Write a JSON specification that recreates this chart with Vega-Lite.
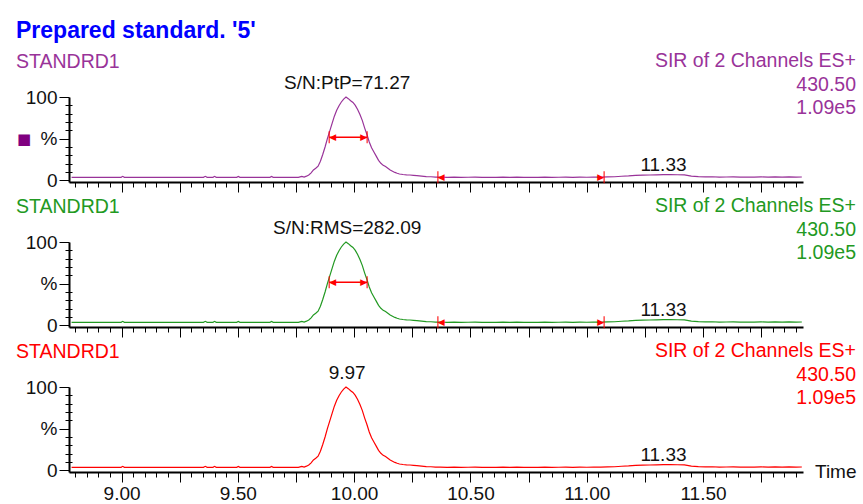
{
  "$schema": "https://vega.github.io/schema/vega-lite/v6.json",
  "background": "white",
  "padding": {"left": 16, "top": 19, "right": 2, "bottom": 0},
  "title": {"text": "Prepared standard. '5'", "anchor": "start", "frame": "bounds", "color": "#0000ff", "font": "Liberation Sans", "fontSize": 23, "fontWeight": "bold", "offset": 8.5},
  "spacing": 60,
  "bounds": "flush",
  "datasets": {
    "trace": [
      {"t": 8.785, "v": 3.6}, {"t": 8.83, "v": 3.6}, {"t": 8.88, "v": 3.6}, {"t": 8.93, "v": 3.6}, {"t": 8.98, "v": 3.6},
      {"t": 8.998, "v": 3.6}, {"t": 9.005, "v": 4.8}, {"t": 9.012, "v": 3.6}, {"t": 9.06, "v": 3.6}, {"t": 9.11, "v": 3.6},
      {"t": 9.16, "v": 3.6}, {"t": 9.21, "v": 3.6}, {"t": 9.26, "v": 3.6}, {"t": 9.31, "v": 3.6}, {"t": 9.352, "v": 3.6},
      {"t": 9.36, "v": 4.8}, {"t": 9.368, "v": 3.6}, {"t": 9.393, "v": 3.6}, {"t": 9.4, "v": 4.8}, {"t": 9.407, "v": 3.6},
      {"t": 9.45, "v": 3.6}, {"t": 9.495, "v": 3.6}, {"t": 9.502, "v": 4.6}, {"t": 9.509, "v": 3.6}, {"t": 9.56, "v": 3.6},
      {"t": 9.6, "v": 3.6}, {"t": 9.638, "v": 3.6}, {"t": 9.645, "v": 4.6}, {"t": 9.652, "v": 3.6}, {"t": 9.7, "v": 3.6},
      {"t": 9.74, "v": 3.6}, {"t": 9.76, "v": 3.6}, {"t": 9.775, "v": 4.8}, {"t": 9.785, "v": 3.9}, {"t": 9.795, "v": 5},
      {"t": 9.805, "v": 6.5}, {"t": 9.815, "v": 9}, {"t": 9.825, "v": 12.5}, {"t": 9.835, "v": 14.5}, {"t": 9.845, "v": 17},
      {"t": 9.855, "v": 23}, {"t": 9.865, "v": 31}, {"t": 9.875, "v": 40}, {"t": 9.885, "v": 50}, {"t": 9.895, "v": 59},
      {"t": 9.905, "v": 68}, {"t": 9.915, "v": 77}, {"t": 9.925, "v": 84}, {"t": 9.935, "v": 89.5}, {"t": 9.945, "v": 94},
      {"t": 9.955, "v": 97.5}, {"t": 9.965, "v": 100}, {"t": 9.975, "v": 98}, {"t": 9.985, "v": 95.5}, {"t": 9.995, "v": 93.5},
      {"t": 10.005, "v": 90}, {"t": 10.015, "v": 85}, {"t": 10.025, "v": 79}, {"t": 10.035, "v": 72}, {"t": 10.045, "v": 63},
      {"t": 10.055, "v": 55}, {"t": 10.065, "v": 46}, {"t": 10.075, "v": 39}, {"t": 10.085, "v": 34}, {"t": 10.095, "v": 29},
      {"t": 10.105, "v": 24}, {"t": 10.115, "v": 20.5}, {"t": 10.125, "v": 18}, {"t": 10.135, "v": 16.5}, {"t": 10.145, "v": 14.5},
      {"t": 10.155, "v": 12.5}, {"t": 10.165, "v": 11}, {"t": 10.175, "v": 9.5}, {"t": 10.185, "v": 8.5}, {"t": 10.195, "v": 7.6},
      {"t": 10.21, "v": 7}, {"t": 10.225, "v": 6.6}, {"t": 10.24, "v": 6.4}, {"t": 10.255, "v": 6.0}, {"t": 10.27, "v": 5.6},
      {"t": 10.29, "v": 5.0}, {"t": 10.31, "v": 4.4}, {"t": 10.33, "v": 4.3}, {"t": 10.35, "v": 3.9}, {"t": 10.37, "v": 3.8},
      {"t": 10.4, "v": 3.6}, {"t": 10.43, "v": 3.9}, {"t": 10.46, "v": 3.6}, {"t": 10.49, "v": 3.7}, {"t": 10.52, "v": 3.9},
      {"t": 10.55, "v": 3.6}, {"t": 10.58, "v": 3.7}, {"t": 10.61, "v": 3.6}, {"t": 10.64, "v": 3.8}, {"t": 10.67, "v": 3.6},
      {"t": 10.7, "v": 3.9}, {"t": 10.73, "v": 3.6}, {"t": 10.76, "v": 3.7}, {"t": 10.79, "v": 3.6}, {"t": 10.82, "v": 3.8},
      {"t": 10.85, "v": 3.6}, {"t": 10.88, "v": 3.7}, {"t": 10.91, "v": 3.9}, {"t": 10.94, "v": 3.6}, {"t": 10.97, "v": 3.8},
      {"t": 11.0, "v": 3.7}, {"t": 11.03, "v": 4.0}, {"t": 11.06, "v": 3.8}, {"t": 11.09, "v": 4.1}, {"t": 11.12, "v": 4.3},
      {"t": 11.15, "v": 4.9}, {"t": 11.18, "v": 5.3}, {"t": 11.21, "v": 5.9}, {"t": 11.24, "v": 6.2}, {"t": 11.27, "v": 6.4},
      {"t": 11.3, "v": 6.6}, {"t": 11.33, "v": 6.9}, {"t": 11.36, "v": 6.8}, {"t": 11.39, "v": 6.7}, {"t": 11.42, "v": 6.6},
      {"t": 11.45, "v": 5.0}, {"t": 11.48, "v": 4.4}, {"t": 11.51, "v": 4.1}, {"t": 11.54, "v": 4.3}, {"t": 11.57, "v": 3.9},
      {"t": 11.6, "v": 4.0}, {"t": 11.63, "v": 4.2}, {"t": 11.66, "v": 3.9}, {"t": 11.69, "v": 4.0}, {"t": 11.72, "v": 3.8},
      {"t": 11.75, "v": 4.1}, {"t": 11.78, "v": 3.9}, {"t": 11.81, "v": 4.2}, {"t": 11.84, "v": 3.9}, {"t": 11.87, "v": 4.1},
      {"t": 11.9, "v": 3.8}, {"t": 11.925, "v": 4.0}
    ],
    "fwhm": [{"t1": 9.893, "t2": 10.056, "v": 51.75}],
    "bars": [{"t": 9.893, "v": 51.75}, {"t": 10.056, "v": 51.75}, {"t": 10.36, "v": 3.7}, {"t": 11.075, "v": 3.7}],
    "leftArrows": [{"t": 9.893, "v": 51.75}, {"t": 10.36, "v": 3.7}],
    "rightArrows": [{"t": 10.056, "v": 51.75}, {"t": 11.075, "v": 3.7}],
    "header": [{"name": "STANDRD1", "lines": ["SIR of 2 Channels ES+", "430.50", "1.09e5"]}],
    "minor": [{"t": 11.33, "v": 6.9, "label": "11.33"}]
  },
  "vconcat": [
    {
      "width": 734, "height": 85,
      "resolve": {"axis": {"x": "independent", "y": "independent"}},
      "layer": [
        {"data": {"name": "trace"}, "mark": {"type": "line", "color": "#993399", "strokeWidth": 1.2},
         "encoding": {
           "x": {"field": "t", "type": "quantitative", "scale": {"domain": [8.774, 11.93], "nice": false, "zero": false},
                 "axis": {"title": null, "orient": "bottom", "labels": false, "values": [9, 9.5, 10, 10.5, 11, 11.5], "tickSize": 10}},
           "y": {"field": "v", "type": "quantitative", "scale": {"domain": [-2, 100], "nice": false, "zero": false},
                 "axis": {"title": null, "orient": "left", "values": [0, 50, 100], "labelExpr": "datum.value == 50 ? '%' : datum.label", "tickSize": 10, "labelPadding": 2, "labelFlush": false}}
         }},
        {"data": {"values": [{"t": 9.97, "v": 100, "label": "S/N:PtP=71.27"}]}, "mark": {"type": "text", "baseline": "alphabetic", "dy": -8, "color": "#111"},
         "encoding": {"x": {"field": "t", "type": "quantitative", "axis": null}, "y": {"field": "v", "type": "quantitative", "axis": null}, "text": {"field": "label"}}},
        {"data": {"name": "minor"}, "mark": {"type": "text", "baseline": "alphabetic", "dy": -4, "color": "#111"},
         "encoding": {
           "x": {"field": "t", "type": "quantitative",
                 "axis": {"title": null, "orient": "bottom", "domain": false, "labels": false, "values": [8.8, 8.85, 8.9, 8.95, 9.05, 9.1, 9.15, 9.2, 9.25, 9.3, 9.35, 9.4, 9.45, 9.55, 9.6, 9.65, 9.7, 9.75, 9.8, 9.85, 9.9, 9.95, 10.05, 10.1, 10.15, 10.2, 10.25, 10.3, 10.35, 10.4, 10.45, 10.55, 10.6, 10.65, 10.7, 10.75, 10.8, 10.85, 10.9, 10.95, 11.05, 11.1, 11.15, 11.2, 11.25, 11.3, 11.35, 11.4, 11.45, 11.55, 11.6, 11.65, 11.7, 11.75, 11.8, 11.85, 11.9],
                          "tickSize": {"condition": {"test": "abs(datum.value*4 - round(datum.value*4)) < 0.01", "value": 10}, "value": 5}}},
           "y": {"field": "v", "type": "quantitative",
                 "axis": {"title": null, "orient": "left", "domain": false, "labels": false, "values": [10, 20, 30, 40, 60, 70, 80, 90], "tickSize": 7, "offset": -3}},
           "text": {"field": "label"}}},
        {"data": {"name": "fwhm"}, "mark": {"type": "rule", "color": "#ff0000", "strokeWidth": 1.5},
         "encoding": {"x": {"field": "t1", "type": "quantitative", "axis": null}, "x2": {"field": "t2"}, "y": {"field": "v", "type": "quantitative", "axis": null}}},
        {"data": {"name": "bars"}, "mark": {"type": "tick", "orient": "vertical", "color": "#ff0000", "size": 12, "thickness": 1.5},
         "encoding": {"x": {"field": "t", "type": "quantitative", "axis": null}, "y": {"field": "v", "type": "quantitative", "axis": null}}},
        {"data": {"name": "leftArrows"}, "mark": {"type": "text", "text": "◀", "font": "DejaVu Sans", "fontSize": 9, "align": "left", "baseline": "middle", "color": "#ff0000"},
         "encoding": {"x": {"field": "t", "type": "quantitative", "axis": null}, "y": {"field": "v", "type": "quantitative", "axis": null}}},
        {"data": {"name": "rightArrows"}, "mark": {"type": "text", "text": "▶", "font": "DejaVu Sans", "fontSize": 9, "align": "right", "baseline": "middle", "color": "#ff0000"},
         "encoding": {"x": {"field": "t", "type": "quantitative", "axis": null}, "y": {"field": "v", "type": "quantitative", "axis": null}}},
        {"data": {"name": "header"}, "mark": {"type": "text", "align": "left", "baseline": "alphabetic", "dx": -53, "dy": -29, "fontSize": 19.5, "color": "#993399"},
         "encoding": {"x": {"datum": 8.774, "type": "quantitative", "axis": null}, "y": {"datum": 100, "type": "quantitative", "axis": null}, "text": {"field": "name"}}},
        {"data": {"name": "header"}, "mark": {"type": "text", "align": "right", "baseline": "alphabetic", "dx": 53, "dy": -30, "fontSize": 19.5, "lineHeight": 23.5, "color": "#993399"},
         "encoding": {"x": {"datum": 11.93, "type": "quantitative", "axis": null}, "y": {"datum": 100, "type": "quantitative", "axis": null}, "text": {"field": "lines"}}},
        {"data": {"name": "header"}, "mark": {"type": "text", "text": "■", "font": "DejaVu Sans", "fontSize": 15, "align": "center", "baseline": "middle", "dx": -45, "color": "#800080"},
         "encoding": {"x": {"datum": 8.774, "type": "quantitative", "axis": null}, "y": {"datum": 50, "type": "quantitative", "axis": null}}}
      ]
    },
    {
      "width": 734, "height": 85,
      "resolve": {"axis": {"x": "independent", "y": "independent"}},
      "layer": [
        {"data": {"name": "trace"}, "mark": {"type": "line", "color": "#229922", "strokeWidth": 1.2},
         "encoding": {
           "x": {"field": "t", "type": "quantitative", "scale": {"domain": [8.774, 11.93], "nice": false, "zero": false},
                 "axis": {"title": null, "orient": "bottom", "labels": false, "values": [9, 9.5, 10, 10.5, 11, 11.5], "tickSize": 10}},
           "y": {"field": "v", "type": "quantitative", "scale": {"domain": [-2, 100], "nice": false, "zero": false},
                 "axis": {"title": null, "orient": "left", "values": [0, 50, 100], "labelExpr": "datum.value == 50 ? '%' : datum.label", "tickSize": 10, "labelPadding": 2, "labelFlush": false}}
         }},
        {"data": {"values": [{"t": 9.97, "v": 100, "label": "S/N:RMS=282.09"}]}, "mark": {"type": "text", "baseline": "alphabetic", "dy": -8, "color": "#111"},
         "encoding": {"x": {"field": "t", "type": "quantitative", "axis": null}, "y": {"field": "v", "type": "quantitative", "axis": null}, "text": {"field": "label"}}},
        {"data": {"name": "minor"}, "mark": {"type": "text", "baseline": "alphabetic", "dy": -4, "color": "#111"},
         "encoding": {
           "x": {"field": "t", "type": "quantitative",
                 "axis": {"title": null, "orient": "bottom", "domain": false, "labels": false, "values": [8.8, 8.85, 8.9, 8.95, 9.05, 9.1, 9.15, 9.2, 9.25, 9.3, 9.35, 9.4, 9.45, 9.55, 9.6, 9.65, 9.7, 9.75, 9.8, 9.85, 9.9, 9.95, 10.05, 10.1, 10.15, 10.2, 10.25, 10.3, 10.35, 10.4, 10.45, 10.55, 10.6, 10.65, 10.7, 10.75, 10.8, 10.85, 10.9, 10.95, 11.05, 11.1, 11.15, 11.2, 11.25, 11.3, 11.35, 11.4, 11.45, 11.55, 11.6, 11.65, 11.7, 11.75, 11.8, 11.85, 11.9],
                          "tickSize": {"condition": {"test": "abs(datum.value*4 - round(datum.value*4)) < 0.01", "value": 10}, "value": 5}}},
           "y": {"field": "v", "type": "quantitative",
                 "axis": {"title": null, "orient": "left", "domain": false, "labels": false, "values": [10, 20, 30, 40, 60, 70, 80, 90], "tickSize": 7, "offset": -3}},
           "text": {"field": "label"}}},
        {"data": {"name": "fwhm"}, "mark": {"type": "rule", "color": "#ff0000", "strokeWidth": 1.5},
         "encoding": {"x": {"field": "t1", "type": "quantitative", "axis": null}, "x2": {"field": "t2"}, "y": {"field": "v", "type": "quantitative", "axis": null}}},
        {"data": {"name": "bars"}, "mark": {"type": "tick", "orient": "vertical", "color": "#ff0000", "size": 12, "thickness": 1.5},
         "encoding": {"x": {"field": "t", "type": "quantitative", "axis": null}, "y": {"field": "v", "type": "quantitative", "axis": null}}},
        {"data": {"name": "leftArrows"}, "mark": {"type": "text", "text": "◀", "font": "DejaVu Sans", "fontSize": 9, "align": "left", "baseline": "middle", "color": "#ff0000"},
         "encoding": {"x": {"field": "t", "type": "quantitative", "axis": null}, "y": {"field": "v", "type": "quantitative", "axis": null}}},
        {"data": {"name": "rightArrows"}, "mark": {"type": "text", "text": "▶", "font": "DejaVu Sans", "fontSize": 9, "align": "right", "baseline": "middle", "color": "#ff0000"},
         "encoding": {"x": {"field": "t", "type": "quantitative", "axis": null}, "y": {"field": "v", "type": "quantitative", "axis": null}}},
        {"data": {"name": "header"}, "mark": {"type": "text", "align": "left", "baseline": "alphabetic", "dx": -53, "dy": -29, "fontSize": 19.5, "color": "#229922"},
         "encoding": {"x": {"datum": 8.774, "type": "quantitative", "axis": null}, "y": {"datum": 100, "type": "quantitative", "axis": null}, "text": {"field": "name"}}},
        {"data": {"name": "header"}, "mark": {"type": "text", "align": "right", "baseline": "alphabetic", "dx": 53, "dy": -30, "fontSize": 19.5, "lineHeight": 23.5, "color": "#229922"},
         "encoding": {"x": {"datum": 11.93, "type": "quantitative", "axis": null}, "y": {"datum": 100, "type": "quantitative", "axis": null}, "text": {"field": "lines"}}}
      ]
    },
    {
      "width": 734, "height": 85,
      "resolve": {"axis": {"x": "independent", "y": "independent"}},
      "layer": [
        {"data": {"name": "trace"}, "mark": {"type": "line", "color": "#ff0000", "strokeWidth": 1.2},
         "encoding": {
           "x": {"field": "t", "type": "quantitative", "scale": {"domain": [8.774, 11.93], "nice": false, "zero": false},
                 "axis": {"title": null, "orient": "bottom", "values": [9, 9.5, 10, 10.5, 11, 11.5], "format": ".2f", "tickSize": 10, "labelPadding": 2, "labelFlush": false}},
           "y": {"field": "v", "type": "quantitative", "scale": {"domain": [-2, 100], "nice": false, "zero": false},
                 "axis": {"title": null, "orient": "left", "values": [0, 50, 100], "labelExpr": "datum.value == 50 ? '%' : datum.label", "tickSize": 10, "labelPadding": 2, "labelFlush": false}}
         }},
        {"data": {"values": [{"t": 9.97, "v": 100, "label": "9.97"}]}, "mark": {"type": "text", "baseline": "alphabetic", "dy": -8, "color": "#111"},
         "encoding": {"x": {"field": "t", "type": "quantitative", "axis": null}, "y": {"field": "v", "type": "quantitative", "axis": null}, "text": {"field": "label"}}},
        {"data": {"name": "minor"}, "mark": {"type": "text", "baseline": "alphabetic", "dy": -4, "color": "#111"},
         "encoding": {
           "x": {"field": "t", "type": "quantitative",
                 "axis": {"title": null, "orient": "bottom", "domain": false, "labels": false, "values": [8.8, 8.85, 8.9, 8.95, 9.05, 9.1, 9.15, 9.2, 9.25, 9.3, 9.35, 9.4, 9.45, 9.55, 9.6, 9.65, 9.7, 9.75, 9.8, 9.85, 9.9, 9.95, 10.05, 10.1, 10.15, 10.2, 10.25, 10.3, 10.35, 10.4, 10.45, 10.55, 10.6, 10.65, 10.7, 10.75, 10.8, 10.85, 10.9, 10.95, 11.05, 11.1, 11.15, 11.2, 11.25, 11.3, 11.35, 11.4, 11.45, 11.55, 11.6, 11.65, 11.7, 11.75, 11.8, 11.85, 11.9],
                          "tickSize": {"condition": {"test": "abs(datum.value*4 - round(datum.value*4)) < 0.01", "value": 10}, "value": 5}}},
           "y": {"field": "v", "type": "quantitative",
                 "axis": {"title": null, "orient": "left", "domain": false, "labels": false, "values": [10, 20, 30, 40, 60, 70, 80, 90], "tickSize": 7, "offset": -3}},
           "text": {"field": "label"}}},
        {"data": {"name": "header"}, "mark": {"type": "text", "align": "left", "baseline": "alphabetic", "dx": -53, "dy": -29, "fontSize": 19.5, "color": "#ff0000"},
         "encoding": {"x": {"datum": 8.774, "type": "quantitative", "axis": null}, "y": {"datum": 100, "type": "quantitative", "axis": null}, "text": {"field": "name"}}},
        {"data": {"name": "header"}, "mark": {"type": "text", "align": "right", "baseline": "alphabetic", "dx": 53, "dy": -30, "fontSize": 19.5, "lineHeight": 23.5, "color": "#ff0000"},
         "encoding": {"x": {"datum": 11.93, "type": "quantitative", "axis": null}, "y": {"datum": 100, "type": "quantitative", "axis": null}, "text": {"field": "lines"}}},
        {"data": {"values": [{"axis": "Time"}]}, "mark": {"type": "text", "align": "left", "baseline": "middle", "dx": 12, "color": "#111"},
         "encoding": {"x": {"datum": 11.93, "type": "quantitative", "axis": null}, "y": {"datum": -2, "type": "quantitative", "axis": null}, "text": {"field": "axis"}}}
      ]
    }
  ],
  "config": {
    "view": {"stroke": null},
    "axis": {"domainColor": "#000", "domainWidth": 2, "tickColor": "#000", "tickWidth": 1, "labelColor": "#111", "labelFont": "Liberation Sans", "labelFontSize": 19, "grid": false},
    "text": {"font": "Liberation Sans", "fontSize": 19},
    "line": {"clip": false}
  }
}
